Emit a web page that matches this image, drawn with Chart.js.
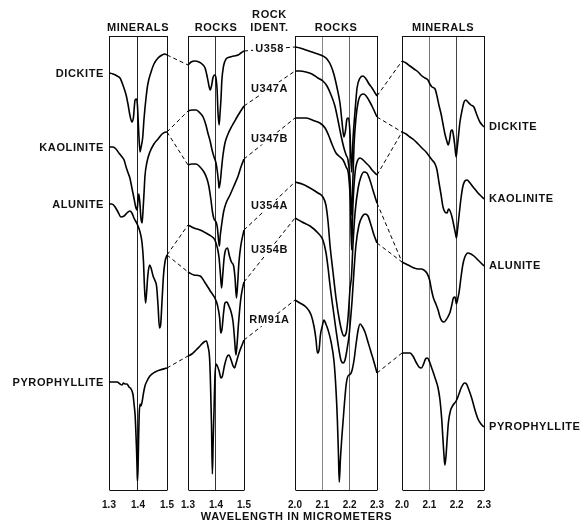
<!DOCTYPE html>
<html><head><meta charset="utf-8">
<script src="https://cdn.jsdelivr.net/npm/chart.js@4.4.1/dist/chart.umd.min.js"></script>
<style>html,body{margin:0;padding:0;background:#fff;}canvas{display:block;}</style>
</head><body>
<canvas id="c" width="583" height="523"></canvas>
<script>
// ---------- DATA (wavelength in micrometers, relative reflectance in arbitrary offset units) ----------
const MINERALS = ['DICKITE','KAOLINITE','ALUNITE','PYROPHYLLITE'];
const ROCKS = ['U358','U347A','U347B','U354A','U354B','RM91A'];
const ROCK_MINERAL = [0,1,1,2,2,3];
const PANEL_TITLES = ['MINERALS','ROCKS','ROCKS','MINERALS'];
const TICKS_14 = ['1.3','1.4','1.5'];
const TICKS_22 = ['2.0','2.1','2.2','2.3'];

// Minerals, 1.3-1.5 um
const DICKITE_14_WL = [1.300,1.314,1.328,1.338,1.348,1.359,1.366,1.372,1.379,1.384,1.390,1.395,1.398,1.403,1.407,1.410,1.416,1.421,1.428,1.434,1.445,1.455,1.469,1.483,1.493,1.500];
const DICKITE_14_R  = [417,416,414,412,405,395,385,375,368,372,390,391,385,355,338,342,352,372,393,406,418,426,432,435,436,435];
const KAOLINITE_14_WL = [1.300,1.314,1.324,1.334,1.345,1.352,1.359,1.366,1.372,1.379,1.386,1.393,1.397,1.400,1.403,1.407,1.410,1.414,1.417,1.421,1.424,1.431,1.441,1.455,1.469,1.483,1.497,1.500];
const KAOLINITE_14_R  = [343,343,341,337,333,330,323,317,312,302,292,282,280,290,296,285,272,267,278,298,314,328,338,346,351,356,358,358];
const ALUNITE_14_WL = [1.300,1.310,1.321,1.331,1.341,1.352,1.362,1.372,1.379,1.386,1.397,1.407,1.414,1.419,1.422,1.426,1.429,1.434,1.440,1.445,1.452,1.459,1.464,1.469,1.474,1.478,1.483,1.488,1.493,1.500];
const ALUNITE_14_R  = [286,286,283,278,273,274,277,279,277,272,266,258,247,228,205,187,195,215,225,222,214,209,204,185,162,165,190,215,228,235];
const PYRO_14_WL = [1.300,1.314,1.328,1.338,1.345,1.350,1.355,1.362,1.369,1.376,1.383,1.386,1.390,1.392,1.395,1.397,1.398,1.400,1.402,1.404,1.407,1.410,1.414,1.419,1.424,1.431,1.441,1.459,1.476,1.500];
const PYRO_14_R  = [108,108,108,106,105,107,106,106,103,101,95,87,75,63,40,20,9,20,50,75,86,84,88,97,104,109,114,118,120,122];

// Rocks, 1.3-1.5 um
const U358_14_WL = [1.300,1.311,1.325,1.339,1.350,1.361,1.368,1.375,1.379,1.384,1.389,1.395,1.400,1.404,1.407,1.411,1.414,1.418,1.421,1.427,1.436,1.450,1.464,1.479,1.489,1.500];
const U358_14_R  = [425,428,429,428,426,422,414,404,400,404,412,415,412,400,378,365,375,392,410,424,431,433,434,435,437,439];
const U347A_14_WL = [1.300,1.314,1.329,1.343,1.354,1.364,1.371,1.379,1.386,1.393,1.400,1.405,1.409,1.411,1.416,1.420,1.425,1.432,1.443,1.457,1.471,1.486,1.500];
const U347A_14_R  = [379,380,380,377,373,365,357,349,340,333,327,318,308,302,310,322,335,347,356,364,371,378,384];
const U347B_14_WL = [1.300,1.314,1.329,1.343,1.357,1.368,1.375,1.382,1.388,1.393,1.400,1.405,1.409,1.412,1.415,1.420,1.427,1.436,1.450,1.464,1.479,1.489,1.500];
const U347B_14_R  = [325,326,326,323,318,311,303,290,277,271,268,262,250,244,254,265,278,287,295,304,314,323,331];
const U354A_14_WL = [1.300,1.321,1.343,1.364,1.382,1.396,1.405,1.411,1.416,1.420,1.424,1.429,1.434,1.441,1.448,1.455,1.463,1.468,1.473,1.477,1.482,1.489,1.496,1.500];
const U354A_14_R  = [265,262,260,257,254,250,242,232,215,202,215,232,240,242,234,228,224,212,192,205,228,245,255,260];
const U354B_14_WL = [1.300,1.321,1.343,1.364,1.382,1.396,1.405,1.413,1.417,1.421,1.427,1.432,1.439,1.446,1.454,1.461,1.466,1.471,1.475,1.480,1.488,1.495,1.500];
const U354B_14_R  = [218,215,214,206,198,192,185,172,157,160,177,187,188,184,178,168,152,135,145,165,190,202,208];
const RM91A_14_WL = [1.300,1.314,1.329,1.343,1.357,1.366,1.371,1.377,1.380,1.384,1.387,1.390,1.393,1.396,1.400,1.405,1.411,1.418,1.423,1.430,1.439,1.446,1.454,1.461,1.466,1.471,1.479,1.486,1.493,1.500];
const RM91A_14_R  = [134,136,140,144,148,149,144,132,110,65,16,50,80,112,126,124,119,112,114,124,133,135,130,124,122,126,134,140,145,150];

// Rocks, 2.0-2.3 um
const U358_22_WL = [2.000,2.018,2.040,2.062,2.084,2.102,2.117,2.132,2.143,2.154,2.165,2.172,2.179,2.185,2.190,2.196,2.201,2.207,2.212,2.220,2.227,2.238,2.249,2.260,2.271,2.282,2.293,2.300];
const U358_22_R  = [443,442,440,438,436,434,431,424,415,402,386,368,353,360,371,372,358,318,350,380,402,412,414,411,406,402,397,394];
const U347A_22_WL = [2.000,2.018,2.040,2.062,2.084,2.102,2.117,2.132,2.146,2.157,2.168,2.179,2.187,2.194,2.201,2.207,2.212,2.216,2.223,2.231,2.241,2.252,2.263,2.274,2.285,2.300];
const U347A_22_R  = [419,419,418,416,412,409,404,395,384,370,355,342,335,330,312,275,312,345,372,388,395,396,393,388,382,373];
const U347B_22_WL = [2.000,2.040,2.073,2.091,2.110,2.124,2.135,2.150,2.165,2.176,2.187,2.196,2.203,2.207,2.212,2.220,2.227,2.238,2.249,2.260,2.271,2.282,2.300];
const U347B_22_R  = [372,372,369,367,362,354,346,337,333,330,323,315,285,240,285,318,328,332,330,327,324,320,315];
const U354A_22_WL = [2.000,2.026,2.055,2.084,2.102,2.113,2.121,2.128,2.139,2.150,2.161,2.172,2.179,2.187,2.194,2.201,2.207,2.212,2.220,2.231,2.241,2.252,2.263,2.274,2.285,2.300];
const U354A_22_R  = [308,306,302,297,293,285,268,245,218,192,172,158,154,157,172,200,215,245,278,302,313,318,317,310,300,287];
const U354B_22_WL = [2.000,2.026,2.055,2.084,2.102,2.113,2.121,2.128,2.139,2.150,2.161,2.168,2.176,2.183,2.190,2.198,2.203,2.209,2.216,2.223,2.234,2.245,2.256,2.267,2.278,2.289,2.300];
const U354B_22_R  = [272,268,264,257,250,238,222,205,182,160,140,130,127,130,140,155,170,190,220,245,265,273,276,274,265,255,247];
const RM91A_22_WL = [2.000,2.018,2.040,2.059,2.070,2.077,2.082,2.088,2.093,2.099,2.106,2.113,2.121,2.132,2.143,2.150,2.155,2.159,2.162,2.166,2.172,2.179,2.187,2.194,2.203,2.209,2.216,2.223,2.231,2.238,2.245,2.256,2.267,2.278,2.289,2.300];
const RM91A_22_R  = [190,187,183,175,163,150,137,140,155,163,170,166,160,148,128,100,70,35,8,30,55,80,105,114,116,120,130,145,160,166,164,158,148,138,128,117];

// Minerals, 2.0-2.3 um
const DICKITE_22_WL = [2.000,2.015,2.029,2.044,2.059,2.073,2.084,2.095,2.102,2.110,2.121,2.128,2.135,2.143,2.150,2.157,2.165,2.169,2.174,2.179,2.184,2.188,2.193,2.198,2.202,2.207,2.212,2.220,2.227,2.234,2.241,2.252,2.263,2.274,2.285,2.300];
const DICKITE_22_R  = [429,427,424,421,418,414,412,410,406,403,401,394,385,376,366,356,348,345,350,359,360,355,345,333,342,355,368,380,388,390,388,385,383,375,368,363];
const KAOLINITE_22_WL = [2.000,2.015,2.029,2.044,2.059,2.073,2.088,2.099,2.110,2.121,2.128,2.135,2.143,2.150,2.157,2.165,2.170,2.176,2.183,2.190,2.196,2.199,2.203,2.209,2.216,2.223,2.230,2.238,2.249,2.263,2.278,2.289,2.300];
const KAOLINITE_22_R  = [358,356,353,350,346,342,338,334,330,326,320,308,295,283,278,277,281,279,273,264,256,252,260,275,292,304,309,310,307,302,297,294,291];
const ALUNITE_22_WL = [2.000,2.015,2.029,2.044,2.059,2.070,2.080,2.091,2.101,2.108,2.115,2.124,2.132,2.139,2.146,2.154,2.161,2.168,2.176,2.183,2.188,2.194,2.199,2.203,2.209,2.216,2.223,2.230,2.241,2.252,2.263,2.278,2.289,2.300];
const ALUNITE_22_R  = [228,226,224,222,221,221,220,217,210,200,192,186,180,173,169,168,170,173,178,186,192,193,186,190,198,213,226,233,237,236,234,230,227,224];
const PYRO_22_WL = [2.000,2.015,2.029,2.040,2.051,2.062,2.071,2.079,2.086,2.093,2.101,2.110,2.121,2.132,2.139,2.145,2.150,2.154,2.157,2.161,2.165,2.170,2.177,2.187,2.198,2.207,2.218,2.229,2.236,2.245,2.256,2.267,2.278,2.289,2.300];
const PYRO_22_R  = [137,137,137,134,128,123,122,126,131,132,128,121,112,102,90,72,50,33,25,34,50,68,79,85,89,95,103,107,106,100,91,80,71,66,63];

// ---------- LAYOUT (not data) ----------
const LAYOUT = {
  panels: [[0,58],[79,135],[186,268],[293,375]],   // panel extents on the composite axis
  span: [0,375], yRange: [0,454],
  pad: {left:109, right:99, top:36, bottom:2}, axisH: 31
};
const FONT = '"Liberation Sans", Arial, sans-serif';
const GRID_COLORS = ['#111','#222','#111','#111','#333','#111','#111','#888','#666','#111','#111','#777','#444','#111'];

// ---------- BUILD ----------
const PANEL_TICKS = [TICKS_14, TICKS_14, TICKS_22, TICKS_22];
const RANGES = PANEL_TICKS.map(t => [parseFloat(t[0]), parseFloat(t[t.length-1])]);
function toX(p, w){ const [lo,hi]=RANGES[p]; const [f,t]=LAYOUT.panels[p]; return f + (w-lo)/(hi-lo)*(t-f); }
function pts(p, wl, r){ const n=Math.min(wl.length,r.length); const out=[]; for(let i=0;i<n;i++) out.push({x:toX(p,wl[i]), y:r[i]}); return out; }

const MIN_14 = [[DICKITE_14_WL,DICKITE_14_R],[KAOLINITE_14_WL,KAOLINITE_14_R],[ALUNITE_14_WL,ALUNITE_14_R],[PYRO_14_WL,PYRO_14_R]];
const MIN_22 = [[DICKITE_22_WL,DICKITE_22_R],[KAOLINITE_22_WL,KAOLINITE_22_R],[ALUNITE_22_WL,ALUNITE_22_R],[PYRO_22_WL,PYRO_22_R]];
const ROCK_14 = [[U358_14_WL,U358_14_R],[U347A_14_WL,U347A_14_R],[U347B_14_WL,U347B_14_R],[U354A_14_WL,U354A_14_R],[U354B_14_WL,U354B_14_R],[RM91A_14_WL,RM91A_14_R]];
const ROCK_22 = [[U358_22_WL,U358_22_R],[U347A_22_WL,U347A_22_R],[U347B_22_WL,U347B_22_R],[U354A_22_WL,U354A_22_R],[U354B_22_WL,U354B_22_R],[RM91A_22_WL,RM91A_22_R]];

const curves = { m14: MIN_14.map(d=>pts(0,d[0],d[1])), r14: ROCK_14.map(d=>pts(1,d[0],d[1])),
                 r22: ROCK_22.map(d=>pts(2,d[0],d[1])), m22: MIN_22.map(d=>pts(3,d[0],d[1])) };
const first = a => a[0], last = a => a[a.length-1];

const datasets = [];
function curveDS(label, data){ datasets.push({label, data, borderColor:'#000', borderWidth:1.6, pointRadius:0, fill:false, cubicInterpolationMode:'monotone'}); }
function dashDS(a, b){ datasets.push({label:'link', data:[a,b], borderColor:'#000', borderWidth:1, borderDash:[4,3], pointRadius:0, fill:false, tension:0}); }
MINERALS.forEach((m,i)=>{ curveDS(m+' 1.4', curves.m14[i]); curveDS(m+' 2.2', curves.m22[i]); });
ROCKS.forEach((r,j)=>{
  curveDS(r+' 1.4', curves.r14[j]); curveDS(r+' 2.2', curves.r22[j]);
  const mi = ROCK_MINERAL[j];
  dashDS(last(curves.m14[mi]), first(curves.r14[j]));
  dashDS(last(curves.r14[j]), first(curves.r22[j]));
  dashDS(last(curves.r22[j]), first(curves.m22[mi]));
});

const TICK_VALUES = [], TICK_TEXT = [];
PANEL_TICKS.forEach((t,p)=>t.forEach(s=>{ TICK_VALUES.push(toX(p, parseFloat(s))); TICK_TEXT.push(s); }));

function txt(ctx, s, x, y, align, size){
  ctx.font = 'bold '+(size||11)+'px '+FONT; ctx.letterSpacing = '0.6px';
  ctx.textAlign = align||'center'; ctx.textBaseline = 'middle'; ctx.fillStyle = '#111';
  ctx.fillText(s, x, y);
}

const deco = {
  id:'deco',
  afterDraw(chart){
    const {ctx, chartArea:a, scales:{x, y}} = chart;
    ctx.save();
    ctx.strokeStyle = '#111'; ctx.lineWidth = 1;
    LAYOUT.panels.forEach(([f,t])=>{
      const x0 = Math.round(x.getPixelForValue(f))+0.5, x1 = Math.round(x.getPixelForValue(t))+0.5;
      [a.top, a.bottom].forEach(yy=>{ const yp=Math.round(yy)+0.5; ctx.beginPath(); ctx.moveTo(x0,yp); ctx.lineTo(x1,yp); ctx.stroke(); });
    });
    // panel titles
    LAYOUT.panels.forEach(([f,t],p)=>{ txt(ctx, PANEL_TITLES[p], x.getPixelForValue((f+t)/2), a.top-8); });
    const gapMid = x.getPixelForValue((LAYOUT.panels[1][1]+LAYOUT.panels[2][0])/2);
    txt(ctx, 'ROCK', gapMid, a.top-21); txt(ctx, 'IDENT.', gapMid, a.top-8);
    // mineral labels
    MINERALS.forEach((m,i)=>{
      txt(ctx, m, a.left-5, y.getPixelForValue(first(curves.m14[i]).y)+1, 'right');
      txt(ctx, m, a.right+5, y.getPixelForValue(last(curves.m22[i]).y), 'left');
    });
    // rock labels on connectors
    ROCKS.forEach((r,j)=>{
      const e = last(curves.r14[j]), s = first(curves.r22[j]);
      const px = x.getPixelForValue((e.x+s.x)/2), py = y.getPixelForValue((e.y+s.y)/2);
      ctx.font = 'bold 11px '+FONT; ctx.letterSpacing='0.6px';
      const w = ctx.measureText(r).width + 4;
      ctx.fillStyle = '#fff'; ctx.fillRect(px-w/2, py-6, w, 12);
      txt(ctx, r, px, py);
    });
    txt(ctx, 'WAVELENGTH IN MICROMETERS', (a.left+a.right)/2, 517);
    ctx.restore();
  }
};

new Chart(document.getElementById('c'), {
  type:'line',
  data:{ datasets },
  options:{
    responsive:false, animation:false, devicePixelRatio:1,
    layout:{ padding: LAYOUT.pad },
    plugins:{ legend:{display:false}, tooltip:{enabled:false} },
    elements:{ line:{ capBezierPoints:true } },
    scales:{
      x:{ type:'linear', min:LAYOUT.span[0], max:LAYOUT.span[1],
          afterBuildTicks: s => { s.ticks = TICK_VALUES.map(v=>({value:v})); },
          afterFit: s => { s.height = LAYOUT.axisH; },
          ticks:{ autoSkip:false, maxRotation:0, padding:9, color:'#111',
                  font:{family:FONT, size:10, weight:'bold'},
                  callback:(v,i)=>TICK_TEXT[i] },
          grid:{ drawTicks:false, lineWidth:1, color: c => GRID_COLORS[c.index] || '#111' },
          border:{ display:false } },
      y:{ display:false, min:LAYOUT.yRange[0], max:LAYOUT.yRange[1] }
    }
  },
  plugins:[deco]
});
</script>
</body></html>
